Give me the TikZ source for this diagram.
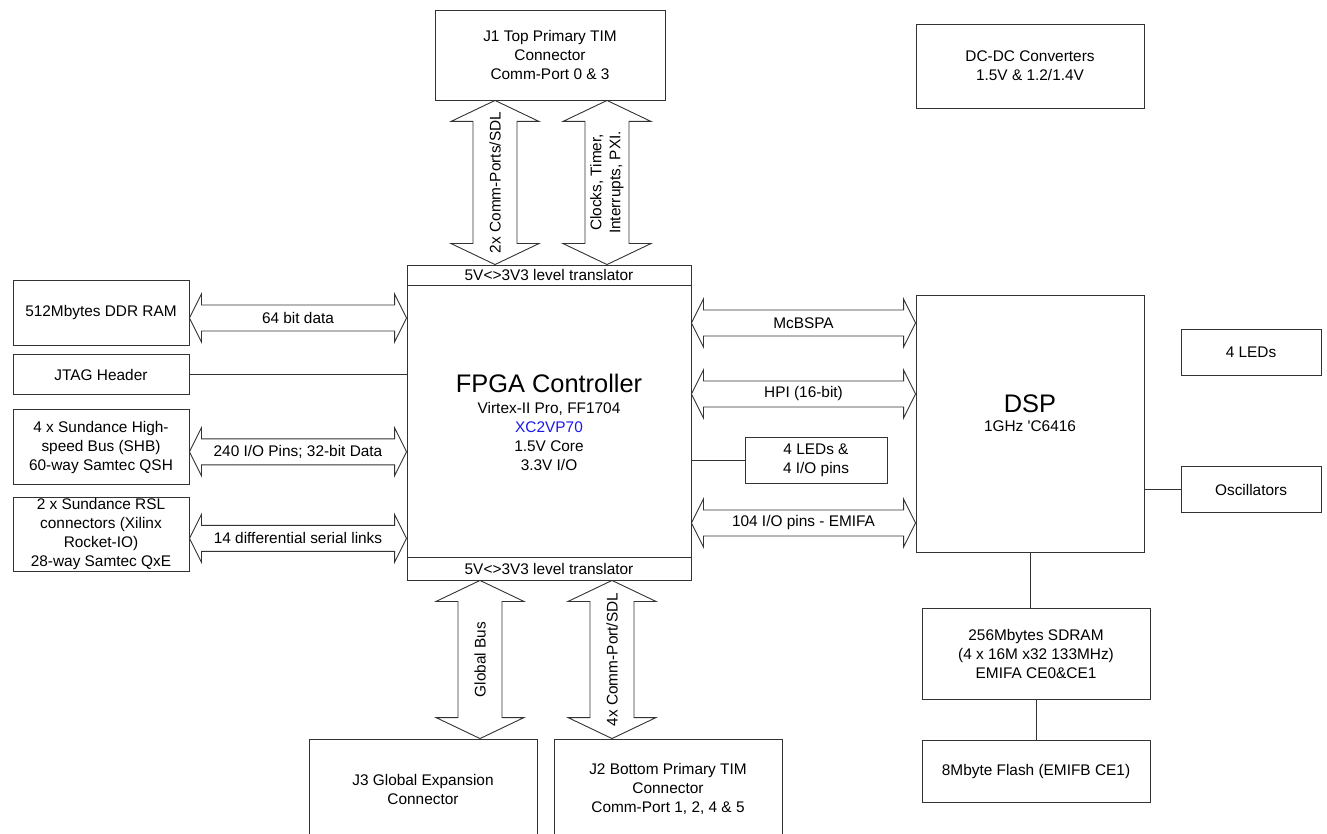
\documentclass[tikz,border=0pt]{standalone}
\usepackage{fontspec}
\setmainfont{Liberation Sans}
\usetikzlibrary{positioning,calc}

\newcommand{\normaltext}{\fontsize{15.4}{19}\selectfont}
\newcommand{\bigtext}{\fontsize{25.4}{28}\selectfont}
\definecolor{partblue}{RGB}{25,25,235}

% block arrows for the buses, drawn tip to tip
\newcommand{\hbus}[3]{%
  \draw[busline] (#1) -- ++(12,-24) -- ++(0,11) -- ($(#2)+(-12,-13)$) -- ++(0,-11) -- (#2)
    -- ++(-12,24) -- ++(0,-11) -- ($(#1)+(12,13)$) -- ++(0,11) -- cycle;
  \node[buslabel] at ($(#1)!0.5!(#2)$) {#3};
}
\newcommand{\vbus}[3]{%
  \draw[busline] (#1) -- ++(-44,21) -- ++(22,0) -- ($(#2)+(-22,-21)$) -- ++(-22,0) -- (#2)
    -- ++(44,-21) -- ++(-22,0) -- ($(#1)+(22,21)$) -- ++(22,0) -- cycle;
  \node[buslabel, rotate=90] at ($(#1)!0.5!(#2)$) {#3};
}

\tikzset{
  box/.style={draw=black!80, line width=0.9pt, fill=white, align=center,
    inner sep=1pt, font=\normaltext},
  busline/.style={draw=black!80, line width=0.9pt, line join=miter},
  buslabel/.style={font=\normaltext, inner sep=0pt, align=center},
  wire/.style={draw=black!80, line width=0.9pt}
}

\begin{document}
\begin{tikzpicture}[x=1pt, y=-1pt]
\useasboundingbox[fill=white] (0,0) rectangle (1327,834);
\clip (0,0) rectangle (1327,834);

% FPGA and its level translators
\node[box, minimum width=284pt, minimum height=315pt] (fpga) at (549,422.5)
  {{\bigtext FPGA Controller}\\[2pt] Virtex-II Pro, FF1704\\ \textcolor{partblue}{XC2VP70}\\ 1.5V Core\\ 3.3V I/O};
\node[box, inner sep=0pt, minimum width=284pt, minimum height=20pt, anchor=north] (trtop) at (fpga.north) {5V<>3V3 level translator};
\node[box, inner sep=0pt, minimum width=284pt, minimum height=23pt, anchor=south] (trbot) at (fpga.south) {5V<>3V3 level translator};

% TIM connectors and power
\node[box, minimum width=230pt, minimum height=90pt] (j1) at (550,55) {J1 Top Primary TIM\\Connector\\Comm-Port 0 \& 3};
\node[box, minimum width=228pt, minimum height=84pt] (dcdc) at (1030,66) {DC-DC Converters\\1.5V \& 1.2/1.4V};
\node[box, minimum width=228pt, minimum height=100pt] (j3) at (423,789) {J3 Global Expansion\\Connector};
\node[box, minimum width=228pt, minimum height=100pt] (j2) at (668,789) {J2 Bottom Primary TIM\\Connector\\Comm-Port 1, 2, 4 \& 5};

% left hand side
\node[box, minimum width=176pt, minimum height=65pt] (ddr) at (101,312.5) {512Mbytes DDR RAM};
\node[box, minimum width=176pt, minimum height=40pt, below=9pt of ddr] (jtag) {JTAG Header};
\node[box, minimum width=176pt, minimum height=75pt, below=14pt of jtag] (shb) {4 x Sundance High-\\speed Bus (SHB)\\60-way Samtec QSH};
\node[box, minimum width=176pt, minimum height=73pt, below=12pt of shb] (rsl) {2 x Sundance RSL\\connectors (Xilinx\\Rocket-IO)\\28-way Samtec QxE};

% DSP side
\node[box, minimum width=228pt, minimum height=257pt] (dsp) at (1030,423.5) {};
\node[buslabel] (dsptext) at (1030,413) {{\bigtext DSP}\\ 1GHz \textquotesingle C6416};
\node[box, minimum width=142pt, minimum height=46pt] (ledio) at (816,460) {4 LEDs \&\\4 I/O pins};
\node[box, minimum width=140pt, minimum height=46pt] (leds) at (1251,352) {4 LEDs};
\node[box, minimum width=140pt, minimum height=46pt, below=91pt of leds] (osc) {Oscillators};
\node[box, minimum width=228pt, minimum height=91pt] (sdram) at (1036,653.5) {256Mbytes SDRAM\\(4 x 16M x32 133MHz)\\EMIFA CE0\&CE1};
\node[box, minimum width=228pt, minimum height=62pt, below=41pt of sdram] (flash) {8Mbyte Flash (EMIFB CE1)};

% plain connections
\draw[wire] (jtag.east) -- (jtag.east -| fpga.west);
\draw[wire] (ledio.west -| fpga.east) -- (ledio.west);
\draw[wire] (osc.west -| dsp.east) -- (osc.west);
\draw[wire] (dsp.south) -- (dsp.south |- sdram.north);
\draw[wire] (sdram.south) -- (flash.north);

% bus end points
\coordinate (ddrbus) at ($(ddr.east)+(0,5.5)$);
\coordinate (shbbus) at ($(shb.east)+(0,4.5)$);
\coordinate (rslbus) at ($(rsl.east)+(0,4)$);
\coordinate (mcbsp) at ($(fpga.east)+(0,-99.5)$);
\coordinate (hpi) at ($(fpga.east)+(0,-28.5)$);
\coordinate (emifa) at ($(fpga.east)+(0,100.5)$);
\coordinate (commtop) at ($(j1.south)+(-55,0)$);
\coordinate (clktop) at ($(j1.south)+(57,0)$);
\coordinate (globbus) at ($(fpga.south)+(-69,0)$);
\coordinate (commbot) at ($(fpga.south)+(63,0)$);

% buses
\hbus{ddrbus}{ddrbus -| fpga.west}{64 bit data}
\hbus{shbbus}{shbbus -| fpga.west}{240 I/O Pins; 32-bit Data}
\hbus{rslbus}{rslbus -| fpga.west}{14 differential serial links}
\hbus{mcbsp}{mcbsp -| dsp.west}{McBSPA}
\hbus{hpi}{hpi -| dsp.west}{HPI (16-bit)}
\hbus{emifa}{emifa -| dsp.west}{104 I/O pins - EMIFA}
\vbus{commtop}{commtop |- fpga.north}{2x Comm-Ports/SDL}
\vbus{clktop}{clktop |- fpga.north}{Clocks, Timer,\\Interrupts, PXI.}
\vbus{globbus}{globbus |- j3.north}{Global Bus}
\vbus{commbot}{commbot |- j2.north}{4x Comm-Port/SDL}

\end{tikzpicture}
\end{document}
